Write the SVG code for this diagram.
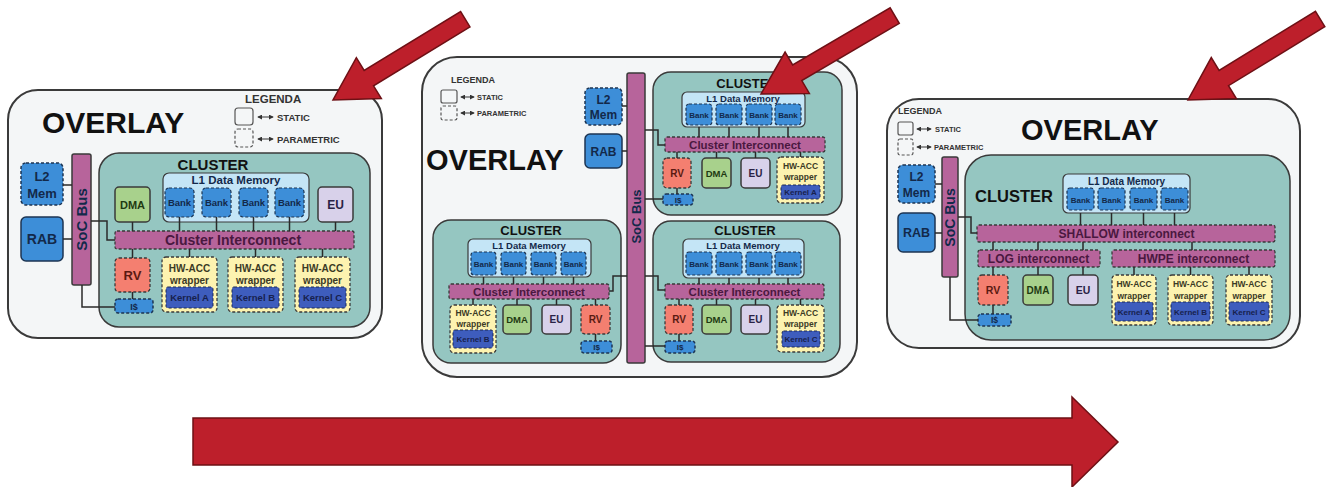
<svg xmlns="http://www.w3.org/2000/svg" xmlns:xlink="http://www.w3.org/1999/xlink" width="1331" height="487" viewBox="0 0 1331 487">
<defs>
<style>
.ov{fill:#f4f6f7;stroke:#3a3a3a;stroke-width:2}
.cl{fill:#95c6c1;stroke:#3a3a3a;stroke-width:1.5}
.l1{fill:#c4e5f6;stroke:#3a3a3a;stroke-width:1.2}
.bank{fill:#3d8ed8;stroke:#1d3553;stroke-width:1.2;stroke-dasharray:3 2}
.blue{fill:#3d8ed8;stroke:#1d3553;stroke-width:1.5}
.blued{fill:#3d8ed8;stroke:#1d3553;stroke-width:1.5;stroke-dasharray:3 2}
.dma{fill:#a8d18c;stroke:#3a3a3a;stroke-width:1.5}
.eu{fill:#d8d1ea;stroke:#3a3a3a;stroke-width:1.5}
.ic{fill:#b7649b;stroke:#3a3a3a;stroke-width:1.3;stroke-dasharray:3 2}
.rv{fill:#f47f70;stroke:#3a3a3a;stroke-width:1.3;stroke-dasharray:3 2}
.hw{fill:#fdf3b0;stroke:#3a3a3a;stroke-width:1.3;stroke-dasharray:3 2}
.ker{fill:#3e5dbd;stroke:#1d2a55;stroke-width:1;stroke-dasharray:3 2}
.bus{fill:#b7649b;stroke:#3a3a3a;stroke-width:1.5}
.lgs{fill:#f4f6f7;stroke:#555;stroke-width:1.2}
.lgp{fill:none;stroke:#555;stroke-width:1.2;stroke-dasharray:3 2}
.wire{fill:none;stroke:#2a2a2a;stroke-width:1.5}
.lgw{fill:none;stroke:#333;stroke-width:1;marker-start:url(#ah);marker-end:url(#ah)}
.arr{fill:#bd1f2b;stroke:#6e1015;stroke-width:1.5}
text{font-family:"Liberation Sans",Arial,Helvetica,sans-serif;font-weight:bold}
.c{text-anchor:middle}
.k{fill:#111}
.n{fill:#13294a}
.p{fill:#4a1840}
.r{fill:#5a1a12}
.g{fill:#1f3a12}
.e{fill:#2a2245}
.y{fill:#3b3a25}
.kt{fill:#17214d}
.lg{fill:#333}
</style>
<marker id="ah" viewBox="0 0 6 6" refX="5" refY="3" markerWidth="5" markerHeight="5" orient="auto-start-reverse">
<path d="M0,0 L6,3 L0,6 z" fill="#333"/>
</marker>
<polygon id="redArrow" points="-155,-9 -42,-9 -42,-24 0,0 -42,24 -42,9 -155,9"/>
</defs>

<!-- ================= PANEL 1 ================= -->
<g id="overlay1">
<rect class="ov" x="8" y="90" width="374" height="248" rx="30"/>
<text class="k" x="42" y="133" font-size="30">OVERLAY</text>
</g>
<g id="legend1">
<text class="lg" x="245" y="103" font-size="11.5">LEGENDA</text>
<rect class="lgs" x="235" y="108" width="18" height="17" rx="3"/>
<path class="lgw" d="M258,117 H273"/>
<text class="lg" x="277" y="121" font-size="9.5">STATIC</text>
<rect class="lgp" x="235" y="129" width="18" height="18" rx="3"/>
<path class="lgw" d="M258,139 H273"/>
<text class="lg" x="277" y="143" font-size="9.5">PARAMETRIC</text>
</g>
<g id="p1-l2mem"><rect class="blued" x="21" y="163" width="42" height="42" rx="5"/><text class="c n" x="42" y="181" font-size="13">L2</text><text class="c n" x="42" y="198" font-size="13">Mem</text></g>
<g id="p1-rab"><rect class="blue" x="21" y="217" width="42" height="44" rx="5"/><text class="c n" x="42" y="244" font-size="14">RAB</text></g>
<g id="p1-socbus"><rect class="bus" x="72" y="154" width="19" height="131" rx="2"/><text class="c n" transform="translate(87,219.5) rotate(-90)" font-size="15">SoC Bus</text></g>
<g id="p1-cluster">
<rect class="cl" x="99" y="153" width="271" height="174" rx="20"/>
<text class="c k" x="213" y="170" font-size="15">CLUSTER</text>
</g>
<g id="p1-l1"><rect class="l1" x="163" y="173" width="146" height="49" rx="6"/><text class="c n" x="236" y="184" font-size="11.5">L1 Data Memory</text></g>
<g id="p1-bank1"><rect class="bank" x="165" y="188" width="29" height="29" rx="4"/><text class="c n" x="179.5" y="206" font-size="9.5">Bank</text></g>
<g id="p1-bank2"><rect class="bank" x="202" y="188" width="29" height="29" rx="4"/><text class="c n" x="216.5" y="206" font-size="9.5">Bank</text></g>
<g id="p1-bank3"><rect class="bank" x="239" y="188" width="29" height="29" rx="4"/><text class="c n" x="253.5" y="206" font-size="9.5">Bank</text></g>
<g id="p1-bank4"><rect class="bank" x="275" y="188" width="29" height="29" rx="4"/><text class="c n" x="289.5" y="206" font-size="9.5">Bank</text></g>
<g id="p1-dma"><rect class="dma" x="115" y="187" width="35" height="35" rx="4"/><text class="c g" x="132.5" y="208.5" font-size="11">DMA</text></g>
<g id="p1-eu"><rect class="eu" x="318" y="187" width="35" height="35" rx="4"/><text class="c e" x="335.5" y="209" font-size="12">EU</text></g>
<g id="p1-ic"><rect class="ic" x="115" y="231" width="239" height="18" rx="2"/><text class="c p" x="233" y="245" font-size="14">Cluster Interconnect</text></g>
<g id="p1-rv"><rect class="rv" x="115" y="258" width="35" height="34" rx="4"/><text class="c r" x="132.5" y="279.5" font-size="13">RV</text></g>
<g id="p1-icache"><rect class="blued" x="115" y="299" width="38" height="14" rx="3"/><text class="c n" x="134" y="309.5" font-size="9">I$</text></g>
<g id="p1-hwa"><rect class="hw" x="162" y="257" width="55" height="55" rx="4"/><text class="c y" x="189.5" y="272" font-size="10">HW-ACC</text><text class="c y" x="189.5" y="284" font-size="10">wrapper</text><rect class="ker" x="166" y="287" width="47" height="21" rx="2"/><text class="c kt" x="189.5" y="301" font-size="9.5">Kernel A</text></g>
<g id="p1-hwb"><rect class="hw" x="228" y="257" width="55" height="55" rx="4"/><text class="c y" x="255.5" y="272" font-size="10">HW-ACC</text><text class="c y" x="255.5" y="284" font-size="10">wrapper</text><rect class="ker" x="232" y="287" width="47" height="21" rx="2"/><text class="c kt" x="255.5" y="301" font-size="9.5">Kernel B</text></g>
<g id="p1-hwc"><rect class="hw" x="295" y="257" width="55" height="55" rx="4"/><text class="c y" x="322.5" y="272" font-size="10">HW-ACC</text><text class="c y" x="322.5" y="284" font-size="10">wrapper</text><rect class="ker" x="299" y="287" width="47" height="21" rx="2"/><text class="c kt" x="322.5" y="301" font-size="9.5">Kernel C</text></g>

<!-- ================= PANEL 2 ================= -->
<g id="overlay2">
<rect class="ov" x="422" y="57" width="435" height="320" rx="35"/>
<text class="k" x="426" y="170" font-size="29">OVERLAY</text>
</g>
<g id="legend2">
<text class="lg" x="451" y="83" font-size="9">LEGENDA</text>
<rect class="lgs" x="441" y="90" width="16" height="13" rx="2"/>
<path class="lgw" d="M461,97 H474"/>
<text class="lg" x="477" y="100" font-size="7.5">STATIC</text>
<rect class="lgp" x="441" y="106" width="16" height="14" rx="2"/>
<path class="lgw" d="M461,113 H474"/>
<text class="lg" x="477" y="116" font-size="7.5">PARAMETRIC</text>
</g>
<g id="p2-l2mem"><rect class="blued" x="585" y="88" width="37" height="37" rx="5"/><text class="c n" x="603.5" y="104" font-size="12">L2</text><text class="c n" x="603.5" y="119" font-size="12">Mem</text></g>
<g id="p2-rab"><rect class="blue" x="585" y="134" width="37" height="34" rx="5"/><text class="c n" x="603.5" y="155.5" font-size="12">RAB</text></g>
<g id="p2-socbus"><rect class="bus" x="627" y="73" width="18" height="290" rx="2"/><text class="c n" transform="translate(640.5,216.5) rotate(-90)" font-size="13">SoC Bus</text></g>

<g id="p2a-cluster"><rect class="cl" x="653" y="72" width="189" height="143" rx="18"/><text class="c k" x="747" y="88" font-size="13">CLUSTER</text></g>
<g id="p2a-l1"><rect class="l1" x="682" y="92" width="123" height="35" rx="5"/><text class="c n" x="743" y="102" font-size="9.5">L1 Data Memory</text></g>
<g id="p2a-bank1"><rect class="bank" x="686" y="104" width="26" height="21" rx="3"/><text class="c n" x="699" y="117.5" font-size="8">Bank</text></g>
<g id="p2a-bank2"><rect class="bank" x="716" y="104" width="26" height="21" rx="3"/><text class="c n" x="729" y="117.5" font-size="8">Bank</text></g>
<g id="p2a-bank3"><rect class="bank" x="746" y="104" width="26" height="21" rx="3"/><text class="c n" x="759" y="117.5" font-size="8">Bank</text></g>
<g id="p2a-bank4"><rect class="bank" x="775" y="104" width="26" height="21" rx="3"/><text class="c n" x="788" y="117.5" font-size="8">Bank</text></g>
<g id="p2a-ic"><rect class="ic" x="665" y="137" width="160" height="15" rx="2"/><text class="c p" x="745" y="148.5" font-size="11.5">Cluster Interconnect</text></g>
<g id="p2a-rv"><rect class="rv" x="663" y="158" width="28" height="30" rx="4"/><text class="c r" x="677" y="176.5" font-size="10">RV</text></g>
<g id="p2a-dma"><rect class="dma" x="702" y="158" width="29" height="30" rx="4"/><text class="c g" x="716.5" y="176.5" font-size="9.5">DMA</text></g>
<g id="p2a-eu"><rect class="eu" x="741" y="158" width="29" height="30" rx="4"/><text class="c e" x="755.5" y="176.5" font-size="10">EU</text></g>
<g id="p2a-hwa"><rect class="hw" x="777" y="157" width="47" height="46" rx="4"/><text class="c y" x="800.5" y="169" font-size="8.5">HW-ACC</text><text class="c y" x="800.5" y="180" font-size="8.5">wrapper</text><rect class="ker" x="781" y="185" width="39" height="14" rx="2"/><text class="c kt" x="800.5" y="195" font-size="8">Kernel A</text></g>
<g id="p2a-icache"><rect class="blued" x="663" y="194" width="30" height="11" rx="3"/><text class="c n" x="678" y="202.5" font-size="8">I$</text></g>

<g id="p2b-cluster"><rect class="cl" x="433" y="220" width="188" height="143" rx="18"/><text class="c k" x="531" y="235" font-size="13">CLUSTER</text></g>
<g id="p2b-l1"><rect class="l1" x="468" y="239" width="123" height="38" rx="5"/><text class="c n" x="529" y="249" font-size="9.5">L1 Data Memory</text></g>
<g id="p2b-bank1"><rect class="bank" x="471" y="252" width="25" height="23" rx="3"/><text class="c n" x="483.5" y="266.5" font-size="8">Bank</text></g>
<g id="p2b-bank2"><rect class="bank" x="501" y="252" width="25" height="23" rx="3"/><text class="c n" x="513.5" y="266.5" font-size="8">Bank</text></g>
<g id="p2b-bank3"><rect class="bank" x="531" y="252" width="25" height="23" rx="3"/><text class="c n" x="543.5" y="266.5" font-size="8">Bank</text></g>
<g id="p2b-bank4"><rect class="bank" x="561" y="252" width="25" height="23" rx="3"/><text class="c n" x="573.5" y="266.5" font-size="8">Bank</text></g>
<g id="p2b-ic"><rect class="ic" x="449" y="284" width="160" height="15" rx="2"/><text class="c p" x="529" y="295.5" font-size="11.5">Cluster Interconnect</text></g>
<g id="p2b-hwb"><rect class="hw" x="450" y="305" width="46" height="48" rx="4"/><text class="c y" x="473" y="316" font-size="8.5">HW-ACC</text><text class="c y" x="473" y="327" font-size="8.5">wrapper</text><rect class="ker" x="453" y="330" width="40" height="18" rx="2"/><text class="c kt" x="473" y="342" font-size="8">Kernel B</text></g>
<g id="p2b-dma"><rect class="dma" x="503" y="305" width="28" height="29" rx="4"/><text class="c g" x="517" y="323" font-size="9.5">DMA</text></g>
<g id="p2b-eu"><rect class="eu" x="542" y="305" width="29" height="29" rx="4"/><text class="c e" x="556.5" y="323" font-size="10">EU</text></g>
<g id="p2b-rv"><rect class="rv" x="581" y="305" width="29" height="29" rx="4"/><text class="c r" x="595.5" y="323" font-size="10">RV</text></g>
<g id="p2b-icache"><rect class="blued" x="581" y="341" width="31" height="12" rx="3"/><text class="c n" x="596.5" y="350" font-size="8">I$</text></g>

<g id="p2c-cluster"><rect class="cl" x="653" y="221" width="187" height="141" rx="18"/><text class="c k" x="745" y="235" font-size="13">CLUSTER</text></g>
<g id="p2c-l1"><rect class="l1" x="683" y="239" width="121" height="39" rx="5"/><text class="c n" x="743" y="249" font-size="9.5">L1 Data Memory</text></g>
<g id="p2c-bank1"><rect class="bank" x="686" y="252" width="26" height="23" rx="3"/><text class="c n" x="699" y="266.5" font-size="8">Bank</text></g>
<g id="p2c-bank2"><rect class="bank" x="716" y="252" width="26" height="23" rx="3"/><text class="c n" x="729" y="266.5" font-size="8">Bank</text></g>
<g id="p2c-bank3"><rect class="bank" x="746" y="252" width="26" height="23" rx="3"/><text class="c n" x="759" y="266.5" font-size="8">Bank</text></g>
<g id="p2c-bank4"><rect class="bank" x="775" y="252" width="26" height="23" rx="3"/><text class="c n" x="788" y="266.5" font-size="8">Bank</text></g>
<g id="p2c-ic"><rect class="ic" x="665" y="284" width="159" height="15" rx="2"/><text class="c p" x="744.5" y="295.5" font-size="11.5">Cluster Interconnect</text></g>
<g id="p2c-rv"><rect class="rv" x="665" y="305" width="28" height="29" rx="4"/><text class="c r" x="679" y="323" font-size="10">RV</text></g>
<g id="p2c-dma"><rect class="dma" x="702" y="305" width="29" height="29" rx="4"/><text class="c g" x="716.5" y="323" font-size="9.5">DMA</text></g>
<g id="p2c-eu"><rect class="eu" x="741" y="305" width="29" height="29" rx="4"/><text class="c e" x="755.5" y="323" font-size="10">EU</text></g>
<g id="p2c-hwc"><rect class="hw" x="777" y="305" width="47" height="47" rx="4"/><text class="c y" x="800.5" y="316" font-size="8.5">HW-ACC</text><text class="c y" x="800.5" y="327" font-size="8.5">wrapper</text><rect class="ker" x="782" y="331" width="38" height="16" rx="2"/><text class="c kt" x="801" y="342" font-size="8">Kernel C</text></g>
<g id="p2c-icache"><rect class="blued" x="665" y="341" width="30" height="12" rx="3"/><text class="c n" x="680" y="350" font-size="8">I$</text></g>

<!-- ================= PANEL 3 ================= -->
<g id="overlay3">
<rect class="ov" x="887" y="99" width="413" height="249" rx="32"/>
<text class="k" x="1021" y="140" font-size="29">OVERLAY</text>
</g>
<g id="legend3">
<text class="lg" x="898" y="114" font-size="9">LEGENDA</text>
<rect class="lgs" x="898" y="122" width="15" height="13" rx="2"/>
<path class="lgw" d="M917,129 H931"/>
<text class="lg" x="935" y="132" font-size="7.5">STATIC</text>
<rect class="lgp" x="898" y="139" width="15" height="16" rx="2"/>
<path class="lgw" d="M917,147 H931"/>
<text class="lg" x="934" y="150" font-size="7.5">PARAMETRIC</text>
</g>
<g id="p3-l2mem"><rect class="blued" x="898" y="165" width="37" height="38" rx="5"/><text class="c n" x="916.5" y="181" font-size="12">L2</text><text class="c n" x="916.5" y="197" font-size="12">Mem</text></g>
<g id="p3-rab"><rect class="blue" x="898" y="213" width="37" height="39" rx="5"/><text class="c n" x="916.5" y="237" font-size="12.5">RAB</text></g>
<g id="p3-socbus"><rect class="bus" x="942" y="157" width="16" height="120" rx="2"/><text class="c n" transform="translate(955,217.5) rotate(-90)" font-size="14">SoC Bus</text></g>
<g id="p3-cluster"><rect class="cl" x="965" y="155" width="325" height="185" rx="26"/><text class="k" x="975" y="202" font-size="16.5">CLUSTER</text></g>
<g id="p3-l1"><rect class="l1" x="1063" y="174" width="127" height="39" rx="5"/><text class="c n" x="1126.5" y="184.5" font-size="10">L1 Data Memory</text></g>
<g id="p3-bank1"><rect class="bank" x="1067" y="188" width="27" height="22" rx="3"/><text class="c n" x="1080.5" y="202.5" font-size="8">Bank</text></g>
<g id="p3-bank2"><rect class="bank" x="1098" y="188" width="27" height="22" rx="3"/><text class="c n" x="1111.5" y="202.5" font-size="8">Bank</text></g>
<g id="p3-bank3"><rect class="bank" x="1130" y="188" width="27" height="22" rx="3"/><text class="c n" x="1143.5" y="202.5" font-size="8">Bank</text></g>
<g id="p3-bank4"><rect class="bank" x="1161" y="188" width="27" height="22" rx="3"/><text class="c n" x="1174.5" y="202.5" font-size="8">Bank</text></g>
<g id="p3-shallow"><rect class="ic" x="977" y="225" width="298" height="17" rx="2"/><text class="c p" x="1126.5" y="238" font-size="12">SHALLOW interconnect</text></g>
<g id="p3-log"><rect class="ic" x="978" y="250" width="122" height="17" rx="2"/><text class="c p" x="1038.5" y="263" font-size="12">LOG interconnect</text></g>
<g id="p3-hwpe"><rect class="ic" x="1112" y="250" width="163" height="17" rx="2"/><text class="c p" x="1193.5" y="263" font-size="12">HWPE interconnect</text></g>
<g id="p3-rv"><rect class="rv" x="978" y="275" width="30" height="30" rx="4"/><text class="c r" x="993" y="294" font-size="10.5">RV</text></g>
<g id="p3-dma"><rect class="dma" x="1023" y="275" width="30" height="30" rx="4"/><text class="c g" x="1038" y="294" font-size="10">DMA</text></g>
<g id="p3-eu"><rect class="eu" x="1068" y="275" width="30" height="30" rx="4"/><text class="c e" x="1083" y="294" font-size="10.5">EU</text></g>
<g id="p3-icache"><rect class="blued" x="978" y="314" width="33" height="12" rx="3"/><text class="c n" x="994.5" y="323" font-size="8.5">I$</text></g>
<g id="p3-hwa"><rect class="hw" x="1112" y="275" width="44" height="50" rx="4"/><text class="c y" x="1134" y="287" font-size="8.5">HW-ACC</text><text class="c y" x="1134" y="298.5" font-size="8.5">wrapper</text><rect class="ker" x="1115" y="302" width="38" height="19" rx="2"/><text class="c kt" x="1134" y="314.5" font-size="8">Kernel A</text></g>
<g id="p3-hwb"><rect class="hw" x="1168" y="275" width="45" height="50" rx="4"/><text class="c y" x="1190.5" y="287" font-size="8.5">HW-ACC</text><text class="c y" x="1190.5" y="298.5" font-size="8.5">wrapper</text><rect class="ker" x="1171" y="302" width="39" height="19" rx="2"/><text class="c kt" x="1190.5" y="314.5" font-size="8">Kernel B</text></g>
<g id="p3-hwc"><rect class="hw" x="1226" y="275" width="46" height="50" rx="4"/><text class="c y" x="1249" y="287" font-size="8.5">HW-ACC</text><text class="c y" x="1249" y="298.5" font-size="8.5">wrapper</text><rect class="ker" x="1229" y="302" width="40" height="19" rx="2"/><text class="c kt" x="1249" y="314.5" font-size="8">Kernel C</text></g>

<!-- ================= CONNECTORS ================= -->
<g id="connectors" class="wire">
<!-- panel 1 -->
<path d="M63,185 H72 M63,239 H72 M91,221 H107 V240 H115 M82,285 V307 H115"/>
<path d="M179.5,217 V231 M216.5,217 V231 M253.5,217 V231 M289.5,217 V231 M132.5,222 V231 M335.5,222 V231"/>
<path d="M132.5,249 V258 M189.5,249 V257 M255.5,249 V257 M322.5,249 V257 M132.5,292 V299"/>
<!-- panel 2 -->
<path d="M622,106 H627 M622,151 H627"/>
<path d="M645,130 H658 V145 H665 M645,199 H663"/>
<path d="M699,127 V137 M729,127 V137 M759,127 V137 M788,127 V137"/>
<path d="M677,152 V158 M716.5,152 V158 M755.5,152 V158 M800.5,152 V157 M677,188 V194"/>
<path d="M609,291 H613 V276 H627"/>
<path d="M483.5,277 V284 M513.5,277 V284 M543.5,277 V284 M573.5,277 V284"/>
<path d="M473,299 V305 M517,299 V305 M556.5,299 V305 M595.5,299 V305 M595.5,334 V341"/>
<path d="M645,276 H658 V290 H665 M645,346 H665"/>
<path d="M699,278 V284 M729,278 V284 M759,278 V284 M788,278 V284"/>
<path d="M679,299 V305 M716.5,299 V305 M755.5,299 V305 M800.5,299 V305 M679,334 V341"/>
<!-- panel 3 -->
<path d="M935,184 H942 M935,233 H942 M958,217 H971 V233 H977 M950,277 V320 H978"/>
<path d="M1080.5,213 V225 M1111.5,213 V225 M1143.5,213 V225 M1174.5,213 V225"/>
<path d="M993,242 V250 M1038,242 V250 M1083,242 V250 M1192,242 V250"/>
<path d="M993,267 V275 M1038,267 V275 M1083,267 V275 M1134,267 V275 M1190.5,267 V275 M1249,267 V275 M993,305 V314"/>
</g>

<!-- ================= RED ARROWS ================= -->
<g id="arrows">
<use xlink:href="#redArrow" href="#redArrow" class="arr" transform="translate(333,100) rotate(148.6)"/>
<use xlink:href="#redArrow" href="#redArrow" class="arr" transform="translate(761,94) rotate(149.6)"/>
<use xlink:href="#redArrow" href="#redArrow" class="arr" transform="translate(1188,100) rotate(148.5)"/>
<polygon class="arr" points="193,418 1072,418 1072,397 1118,442 1072,487 1072,465 193,465"/>
</g>
</svg>
